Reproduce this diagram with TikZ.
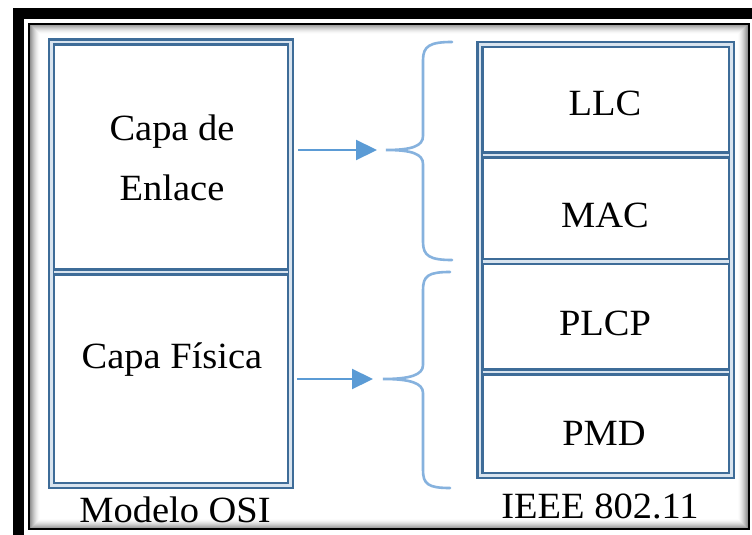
\documentclass[tikz,border=0pt]{standalone}
\usepackage{fontspec}
\setmainfont{Liberation Serif}[FakeStretch=1.04]
\usetikzlibrary{arrows.meta}
\definecolor{boxblue}{HTML}{3E6C98}
\definecolor{boxgap}{HTML}{D9E4EF}
\definecolor{arrowblue}{HTML}{5B9BD5}
\definecolor{braceblue}{HTML}{86B2DE}
\tikzset{
  cellframe/.style={draw=boxblue, double=boxgap, line width=2.2pt, double distance=2.8pt},
  flow/.style={draw=arrowblue, line width=2.2pt, -{Triangle[length=21pt,width=20pt]}},
  bracket/.style={draw=braceblue, line width=2.6pt, line cap=round},
  txt/.style={font=\fontsize{37}{45}\selectfont, anchor=base, inner sep=0pt}
}
\begin{document}
\begin{tikzpicture}[x=1pt,y=-1pt]
\useasboundingbox (0,0) rectangle (752,535);
\fill[white] (0,0) rectangle (752,535);
% heavy border on top and left
\fill[black] (13,8) rectangle (752,19);
\fill[black] (13,8) rectangle (24,535);
% soft inner shadow
\foreach \i in {1,...,10}{
  \pgfmathsetmacro\g{50*(1-\i/11)^1.6}
  \draw[black!\g, line width=1.1pt] (29.75+\i,23.75+\i) rectangle (748.25-\i,529.25-\i);
}
% thin frame
\draw[line width=2.5pt] (29,24) rectangle (749,529);

% OSI column
\draw[cellframe] (51.5,42) rectangle (290.5,485.5);
\draw[cellframe] (54,272) -- (288,272);
% IEEE 802.11 column
\draw[cellframe] (480,44.5) rectangle (731.5,475.5);
\foreach \y in {155,261.5,372} \draw[cellframe] (482.5,\y) -- (729,\y);

% labels
\node[txt] (capa1) at (172,140) {Capa de};
\node[txt] (enlace) at (172,200) {Enlace};
\node[txt] (fisica) at (172,368) {Capa Física};
\node[txt] (osi) at (175,522) {Modelo OSI};
\node[txt] (llc) at (605,115) {LLC};
\node[txt] (mac) at (605,227) {MAC};
\node[txt] (plcp) at (605,335) {PLCP};
\node[txt] (pmd) at (604,445) {PMD};
\node[txt] (ieee) at (600,518) {IEEE 802.11};

% data link layer -> LLC + MAC
\coordinate (a1s) at (298,150);
\coordinate (a1e) at (377,150);
\coordinate (b1top) at (452,42);
\coordinate (b1tip) at (386,150);
\coordinate (b1bot) at (452,260);
\draw[flow] (a1s) -- (a1e);
\draw[bracket] (b1top) .. controls (430,42) and (423,46) .. (423,60) -- (423,136)
  .. controls (423,146) and (412,150) .. (b1tip)
  .. controls (412,150) and (423,154) .. (423,164) -- (423,242)
  .. controls (423,256) and (430,260) .. (b1bot);

% physical layer -> PLCP + PMD
\coordinate (a2s) at (297,379);
\coordinate (a2e) at (373,379);
\coordinate (b2top) at (450,272);
\coordinate (b2tip) at (383,379);
\coordinate (b2bot) at (450,488);
\draw[flow] (a2s) -- (a2e);
\draw[bracket] (b2top) .. controls (428,272) and (423,276) .. (423,290) -- (423,365)
  .. controls (423,375) and (410,379) .. (b2tip)
  .. controls (410,379) and (423,383) .. (423,393) -- (423,470)
  .. controls (423,484) and (428,488) .. (b2bot);
\end{tikzpicture}
\end{document}
